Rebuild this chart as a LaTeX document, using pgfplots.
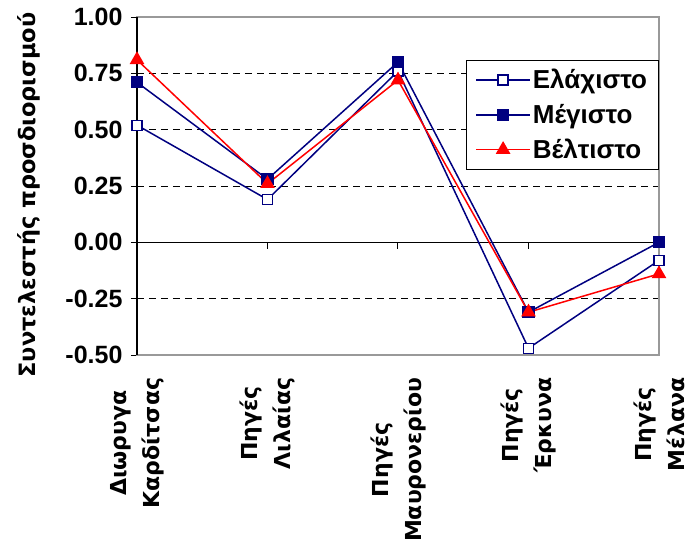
\documentclass[border=0pt]{standalone}
\usepackage{fontspec}
\setmainfont{Liberation Sans}
\newfontfamily\tahoma{DejaVu Sans}
\usepackage{pgfplots}
\pgfplotsset{compat=1.18}
\definecolor{navy}{RGB}{0,0,128}
\definecolor{xlred}{RGB}{255,0,0}
\begin{document}
\begin{tikzpicture}
\begin{axis}[
  at={(0pt,0pt)}, anchor=south west,
  scale only axis, width=522pt, height=338pt,
  xmin=0, xmax=4, ymin=-0.5, ymax=1,
  xtick=\empty,
  ytick={-0.5,-0.25,0,0.25,0.5,0.75,1},
  /pgf/number format/fixed, /pgf/number format/fixed zerofill, /pgf/number format/precision=2,
  /pgf/number format/assume math mode=true,
  every tick label/.append style={font=\fontsize{25}{29}\selectfont\bfseries},
  yticklabel style={xshift=-5pt},
  ytick pos=left, tick align=outside, major tick length=6pt,
  ytick style={black, line width=1pt},
  ymajorgrids, major grid style={black, line width=0.8pt, dash pattern=on 7pt off 5pt},
  extra y ticks={0}, extra y tick labels={},
  extra y tick style={major grid style={solid, black, line width=1pt}},
  axis line style={gray!80, line width=1.2pt},
  clip=false,
  legend style={at={(rel axis cs:0.630,0.873)}, anchor=north west, draw=black, line width=1pt,
    font=\fontsize{26}{30}\selectfont\bfseries, legend cell align=left,
    row sep=10pt, inner xsep=9pt, inner ysep=7pt},
  legend image code/.code={\draw[mark repeat=2,mark phase=2,#1] plot coordinates {(0pt,0pt)(27pt,0pt)(54pt,0pt)};},
]
\addplot[navy, line width=1.5pt, mark=square*, mark size=5pt, mark options={fill=white, line width=1.3pt}]
  coordinates {(0,0.52) (1,0.19) (2,0.76) (3,-0.47) (4,-0.08)};
\addlegendentry{Ελάχιστο}
\addplot[navy, line width=1.5pt, mark=square*, mark size=5.3pt, mark options={fill=navy, solid}]
  coordinates {(0,0.71) (1,0.28) (2,0.80) (3,-0.31) (4,0.00)};
\addlegendentry{Μέγιστο}
\addplot[xlred, line width=1.5pt, mark=triangle*, mark size=7pt, mark options={fill=xlred, solid}]
  coordinates {(0,0.81) (1,0.26) (2,0.72) (3,-0.31) (4,-0.14)};
\addlegendentry{Βέλτιστο}
\draw[black, line width=1.2pt] (rel axis cs:0,0) -- (rel axis cs:0,1);
\draw[black, line width=1pt] (axis cs:1,0) -- ([yshift=-7pt]axis cs:1,0);
\draw[black, line width=1pt] (axis cs:2,0) -- ([yshift=-7pt]axis cs:2,0);
\draw[black, line width=1pt] (axis cs:3,0) -- ([yshift=-7pt]axis cs:3,0);
\node[rotate=90, anchor=east, align=center, inner sep=0pt, font=\tahoma\bfseries\fontsize{22}{33}\selectfont] at (axis cs:0,-0.6) {Διωρυγα\\Καρδίτσας};
\node[rotate=90, anchor=east, align=center, inner sep=0pt, font=\tahoma\bfseries\fontsize{22}{33}\selectfont] at (axis cs:1,-0.6) {Πηγές\\Λιλαίας};
\node[rotate=90, anchor=east, align=center, inner sep=0pt, font=\tahoma\bfseries\fontsize{22}{33}\selectfont] at (axis cs:2,-0.6) {Πηγές\\Μαυρονερίου};
\node[rotate=90, anchor=east, align=center, inner sep=0pt, font=\tahoma\bfseries\fontsize{22}{33}\selectfont] at (axis cs:3,-0.6) {Πηγές\\Έρκυνα};
\node[rotate=90, anchor=east, align=center, inner sep=0pt, font=\tahoma\bfseries\fontsize{22}{33}\selectfont] at (axis cs:4,-0.6) {Πηγές\\Μέλανα};
\end{axis}
\node[rotate=90, anchor=center, inner sep=0pt, font=\tahoma\bfseries\fontsize{22.5}{27}\selectfont] at (-108pt,160pt) {Συντελεστής προσδιορισμού};
\pgfresetboundingbox
\useasboundingbox (-137pt,-189pt) rectangle (552pt,355pt);
\end{tikzpicture}
\end{document}
